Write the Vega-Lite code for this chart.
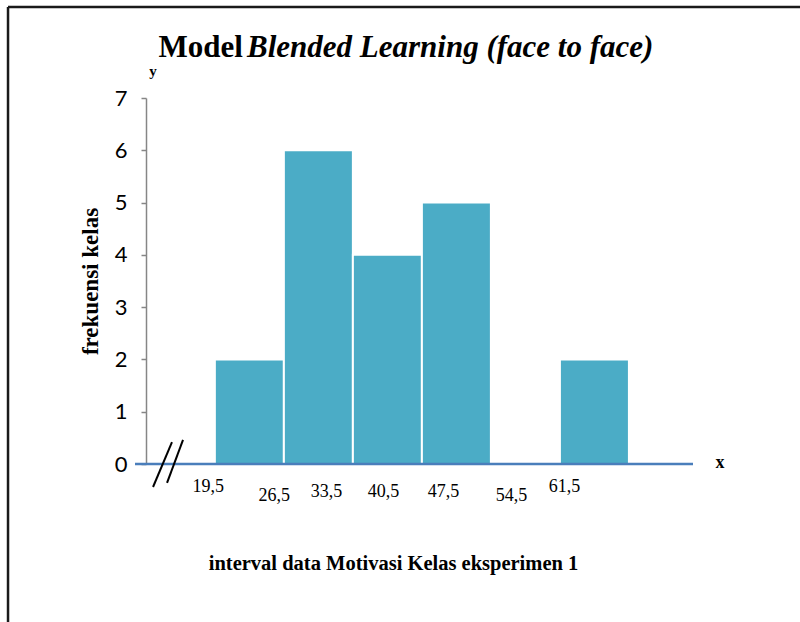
{
  "$schema": "https://vega.github.io/schema/vega-lite/v6.json",
  "autosize": {"type": "none"},
  "width": 558,
  "height": 366,
  "padding": {"left": 135, "top": 98, "right": 107, "bottom": 158},
  "background": "white",
  "config": {"view": {"stroke": null}},
  "data": {"values": [
    {"lo": 19.5, "hi": 26.5, "freq": 2},
    {"lo": 26.5, "hi": 33.5, "freq": 6},
    {"lo": 33.5, "hi": 40.5, "freq": 4},
    {"lo": 40.5, "hi": 47.5, "freq": 5},
    {"lo": 47.5, "hi": 54.5, "freq": 0},
    {"lo": 54.5, "hi": 61.5, "freq": 2}
  ]},
  "layer": [
    {
      "mark": {"type": "rect", "fill": "#4bacc6", "stroke": "white", "strokeWidth": 2},
      "encoding": {
        "x": {"field": "lo", "type": "quantitative",
          "scale": {"domain": [11.4, 68], "nice": false, "zero": false},
          "axis": {
            "values": [19.5, 26.5, 33.5, 40.5, 47.5, 54.5, 61.5],
            "labelExpr": "replace(format(datum.value, '.1f'), '.', ',')",
            "domain": false, "ticks": false, "grid": false,
            "labelFont": "Liberation Serif", "labelFontSize": 18, "labelColor": "black",
            "labelBaseline": "top",
            "labelOffset": {"condition": [
              {"test": "datum.value == 19.5", "value": -7},
              {"test": "datum.value == 26.5", "value": -10},
              {"test": "datum.value == 33.5", "value": -27},
              {"test": "datum.value == 40.5", "value": -39},
              {"test": "datum.value == 47.5", "value": -48},
              {"test": "datum.value == 54.5", "value": -49}
            ], "value": -65},
            "labelPadding": {"condition": [
              {"test": "datum.value == 26.5 || datum.value == 54.5", "value": 22},
              {"test": "datum.value == 19.5 || datum.value == 61.5", "value": 13}
            ], "value": 18},
            "title": "interval data Motivasi Kelas eksperimen 1",
            "titleFont": "Liberation Serif", "titleFontSize": 20.5, "titleFontWeight": "bold", "titleColor": "black",
            "titleX": 258, "titleY": 99, "titleAlign": "center", "titleBaseline": "middle"
          }},
        "x2": {"field": "hi"},
        "y": {"field": "freq", "type": "quantitative",
          "scale": {"domain": [0, 7], "nice": false},
          "axis": {
            "values": [0, 1, 2, 3, 4, 5, 6, 7],
            "format": "d",
            "offset": -11,
            "grid": false,
            "domainColor": "#868686", "domainWidth": 1.5,
            "tickColor": "#868686", "tickSize": 5, "tickWidth": 1.5,
            "labelFont": "Lato", "labelFontSize": 22, "labelColor": "black", "labelPadding": 14,
            "title": "frekuensi kelas",
            "titleFont": "Liberation Serif", "titleFontSize": 23, "titleFontWeight": "bold", "titleColor": "black",
            "titlePadding": 12
          }},
        "y2": {"datum": 0}
      }
    },
    {
      "data": {"values": [{}]},
      "mark": {"type": "rule", "color": "#4a7ebb", "strokeWidth": 2.5},
      "encoding": {"x": {"datum": 11.4}, "x2": {"datum": 68}, "y": {"datum": 0}}
    },
    {
      "data": {"values": [{}]},
      "mark": {"type": "rule", "color": "black", "strokeWidth": 2},
      "encoding": {"x": {"datum": 13.23}, "x2": {"datum": 15.15}, "y": {"datum": -0.44}, "y2": {"datum": 0.42}}
    },
    {
      "data": {"values": [{}]},
      "mark": {"type": "rule", "color": "black", "strokeWidth": 2},
      "encoding": {"x": {"datum": 14.65}, "x2": {"datum": 16.27}, "y": {"datum": -0.36}, "y2": {"datum": 0.46}}
    },
    {
      "data": {"values": [{"t": "Model"}]},
      "mark": {"type": "text", "font": "Liberation Serif", "fontSize": 31, "fontWeight": "bold", "align": "right", "baseline": "middle", "color": "black"},
      "encoding": {"text": {"field": "t"}, "x": {"datum": 22.35}, "y": {"datum": 7.956}}
    },
    {
      "data": {"values": [{"t": "Blended Learning (face to face)"}]},
      "mark": {"type": "text", "font": "Liberation Serif", "fontSize": 31, "fontWeight": "bold", "fontStyle": "italic", "align": "left", "baseline": "middle", "color": "black"},
      "encoding": {"text": {"field": "t"}, "x": {"datum": 22.76}, "y": {"datum": 7.956}}
    },
    {
      "data": {"values": [{"t": "y"}]},
      "mark": {"type": "text", "font": "Liberation Serif", "fontSize": 15, "fontWeight": "bold", "align": "center", "baseline": "middle", "color": "black"},
      "encoding": {"text": {"field": "t"}, "x": {"datum": 13.23}, "y": {"datum": 7.52}}
    },
    {
      "data": {"values": [{"t": "x"}]},
      "mark": {"type": "text", "font": "Liberation Serif", "fontSize": 18, "fontWeight": "bold", "align": "center", "baseline": "middle", "color": "black"},
      "encoding": {"text": {"field": "t"}, "x": {"datum": 70.73}, "y": {"datum": 0.02}}
    },
    {
      "data": {"values": [{}]},
      "mark": {"type": "rule", "color": "#1a1a1a", "strokeWidth": 2.5},
      "encoding": {"x": {"datum": -1.48}, "x2": {"datum": 80}, "y": {"datum": 8.74}}
    },
    {
      "data": {"values": [{}]},
      "mark": {"type": "rule", "color": "#1a1a1a", "strokeWidth": 2.5},
      "encoding": {"x": {"datum": -1.48}, "y": {"datum": -3.2}, "y2": {"datum": 8.74}}
    }
  ]
}
